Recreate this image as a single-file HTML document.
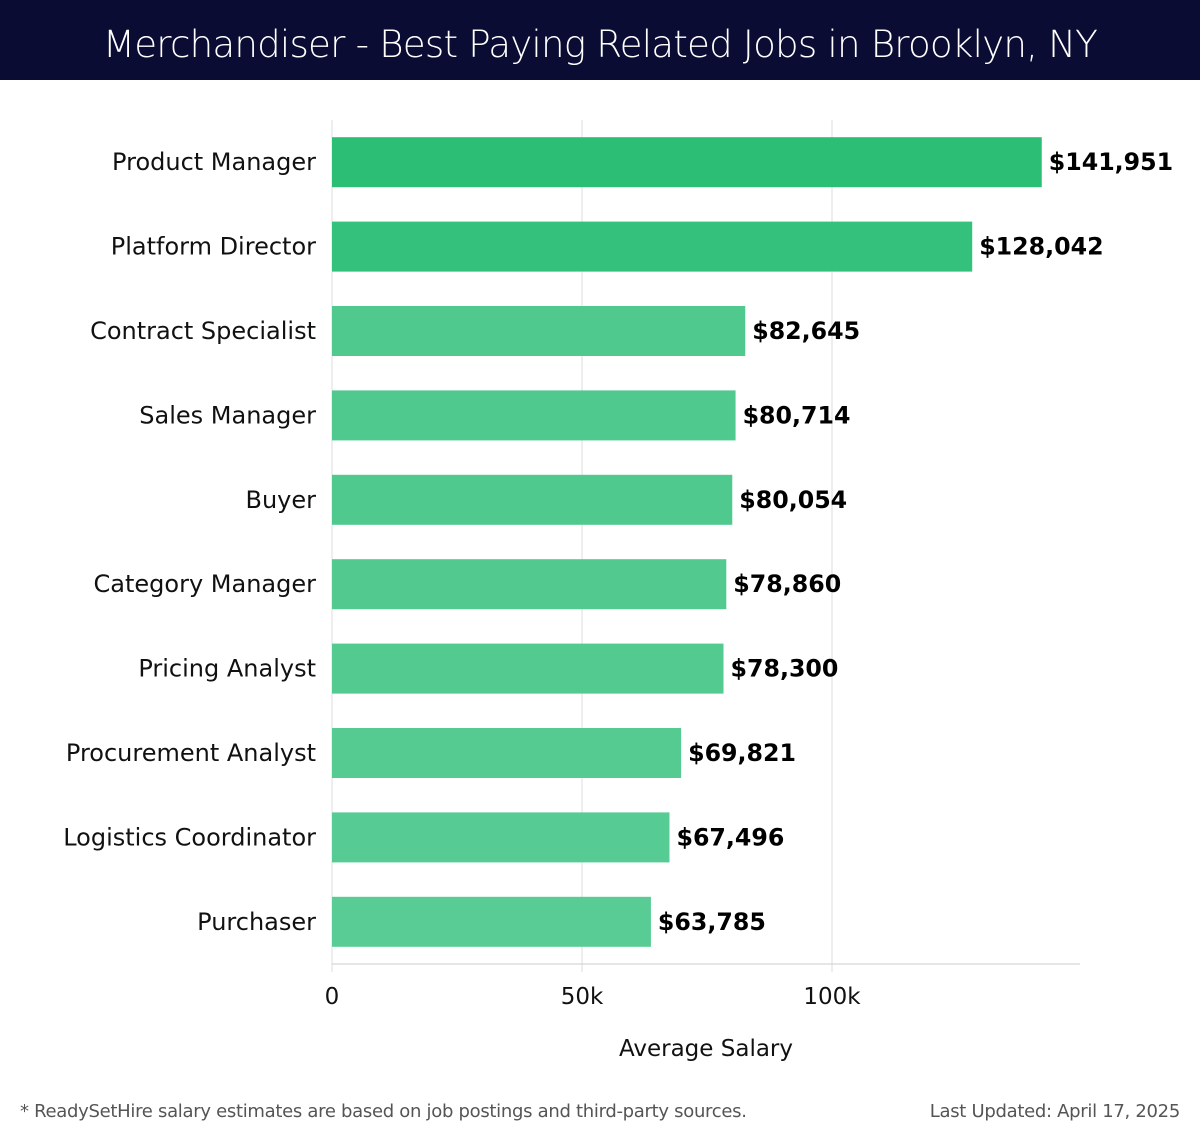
<!DOCTYPE html>
<html><head><meta charset="utf-8">
<style>
body{margin:0;width:1200px;height:1140px;background:#fff;font-family:"DejaVu Sans","Liberation Sans",sans-serif;overflow:hidden;position:relative}
#title{position:absolute;left:0;top:0;width:1200px;height:80px;background:#0b0c34;color:#fff;font-size:37.2px;text-align:center;line-height:88px;font-family:"DejaVu Sans","Liberation Sans",sans-serif;font-weight:300;letter-spacing:-0.8px}
.foot{position:absolute;top:1101px;font-size:18px;color:#555;letter-spacing:-0.3px}
</style></head><body>
<div id="title">Merchandiser - Best Paying Related Jobs in Brooklyn, NY</div>
<svg id="chart" width="1200" height="1090" style="position:absolute;left:0;top:0"></svg>
<div class="foot" style="left:20px">* ReadySetHire salary estimates are based on job postings and third-party sources.</div>
<div class="foot" style="right:20px">Last Updated: April 17, 2025</div>
<script>
const categories=["Product Manager","Platform Director","Contract Specialist","Sales Manager","Buyer","Category Manager","Pricing Analyst","Procurement Analyst","Logistics Coordinator","Purchaser"];
const values=[141951,128042,82645,80714,80054,78860,78300,69821,67496,63785];
const tickValues=[0,50000,100000];
const tickLabels=["0","50k","100k"];
const colors=["#2dbe75","#33c17c","#50c98f","#50c98f","#50c98f","#51c98f","#52ca90","#55cb92","#56cb93","#58cc94"];
const svg=document.getElementById('chart');
const NS="http://www.w3.org/2000/svg";
const x0=332,pxPer=250/50000,top0=120,step=84.4,barH=50,plotBottom=964,plotRight=1080;
const xs=v=>x0+v*pxPer;
const yc=i=>top0+step*i+step/2;
function mk(t,a){const e=document.createElementNS(NS,t);for(const k in a)e.setAttribute(k,a[k]);svg.appendChild(e);return e;}
tickValues.forEach((v,i)=>{
 const g=mk('line',{x1:xs(v),x2:xs(v),y1:top0,y2:plotBottom+8,stroke:'#ddd','stroke-width':1});
 
 
 const t=mk('text',{x:xs(v),y:1004,'text-anchor':'middle','font-size':23,fill:'#111'});
 t.textContent=tickLabels[i];
 
 
});
const ax=mk('line',{x1:x0,x2:plotRight,y1:plotBottom,y2:plotBottom,stroke:'#ccc','stroke-width':1});


categories.forEach((c,i)=>{
 const y=yc(i);
 const r=mk('rect',{x:x0,y:y-barH/2,width:xs(values[i])-x0,height:barH,fill:colors[i]});
 
 
 const l=mk('text',{x:316,y:y+8,'text-anchor':'end','font-size':24,fill:'#111'});
 l.textContent=c;
 
 
 const v=mk('text',{x:xs(values[i])+7,y:y+8,'font-size':23.7,'font-weight':'bold',fill:'#000'});
 v.textContent='$'+values[i].toLocaleString('en-US');
 
 
});
const xt=mk('text',{x:706,y:1056,'text-anchor':'middle','font-size':23,fill:'#111'});
xt.textContent='Average Salary';


</script>
</body></html>
